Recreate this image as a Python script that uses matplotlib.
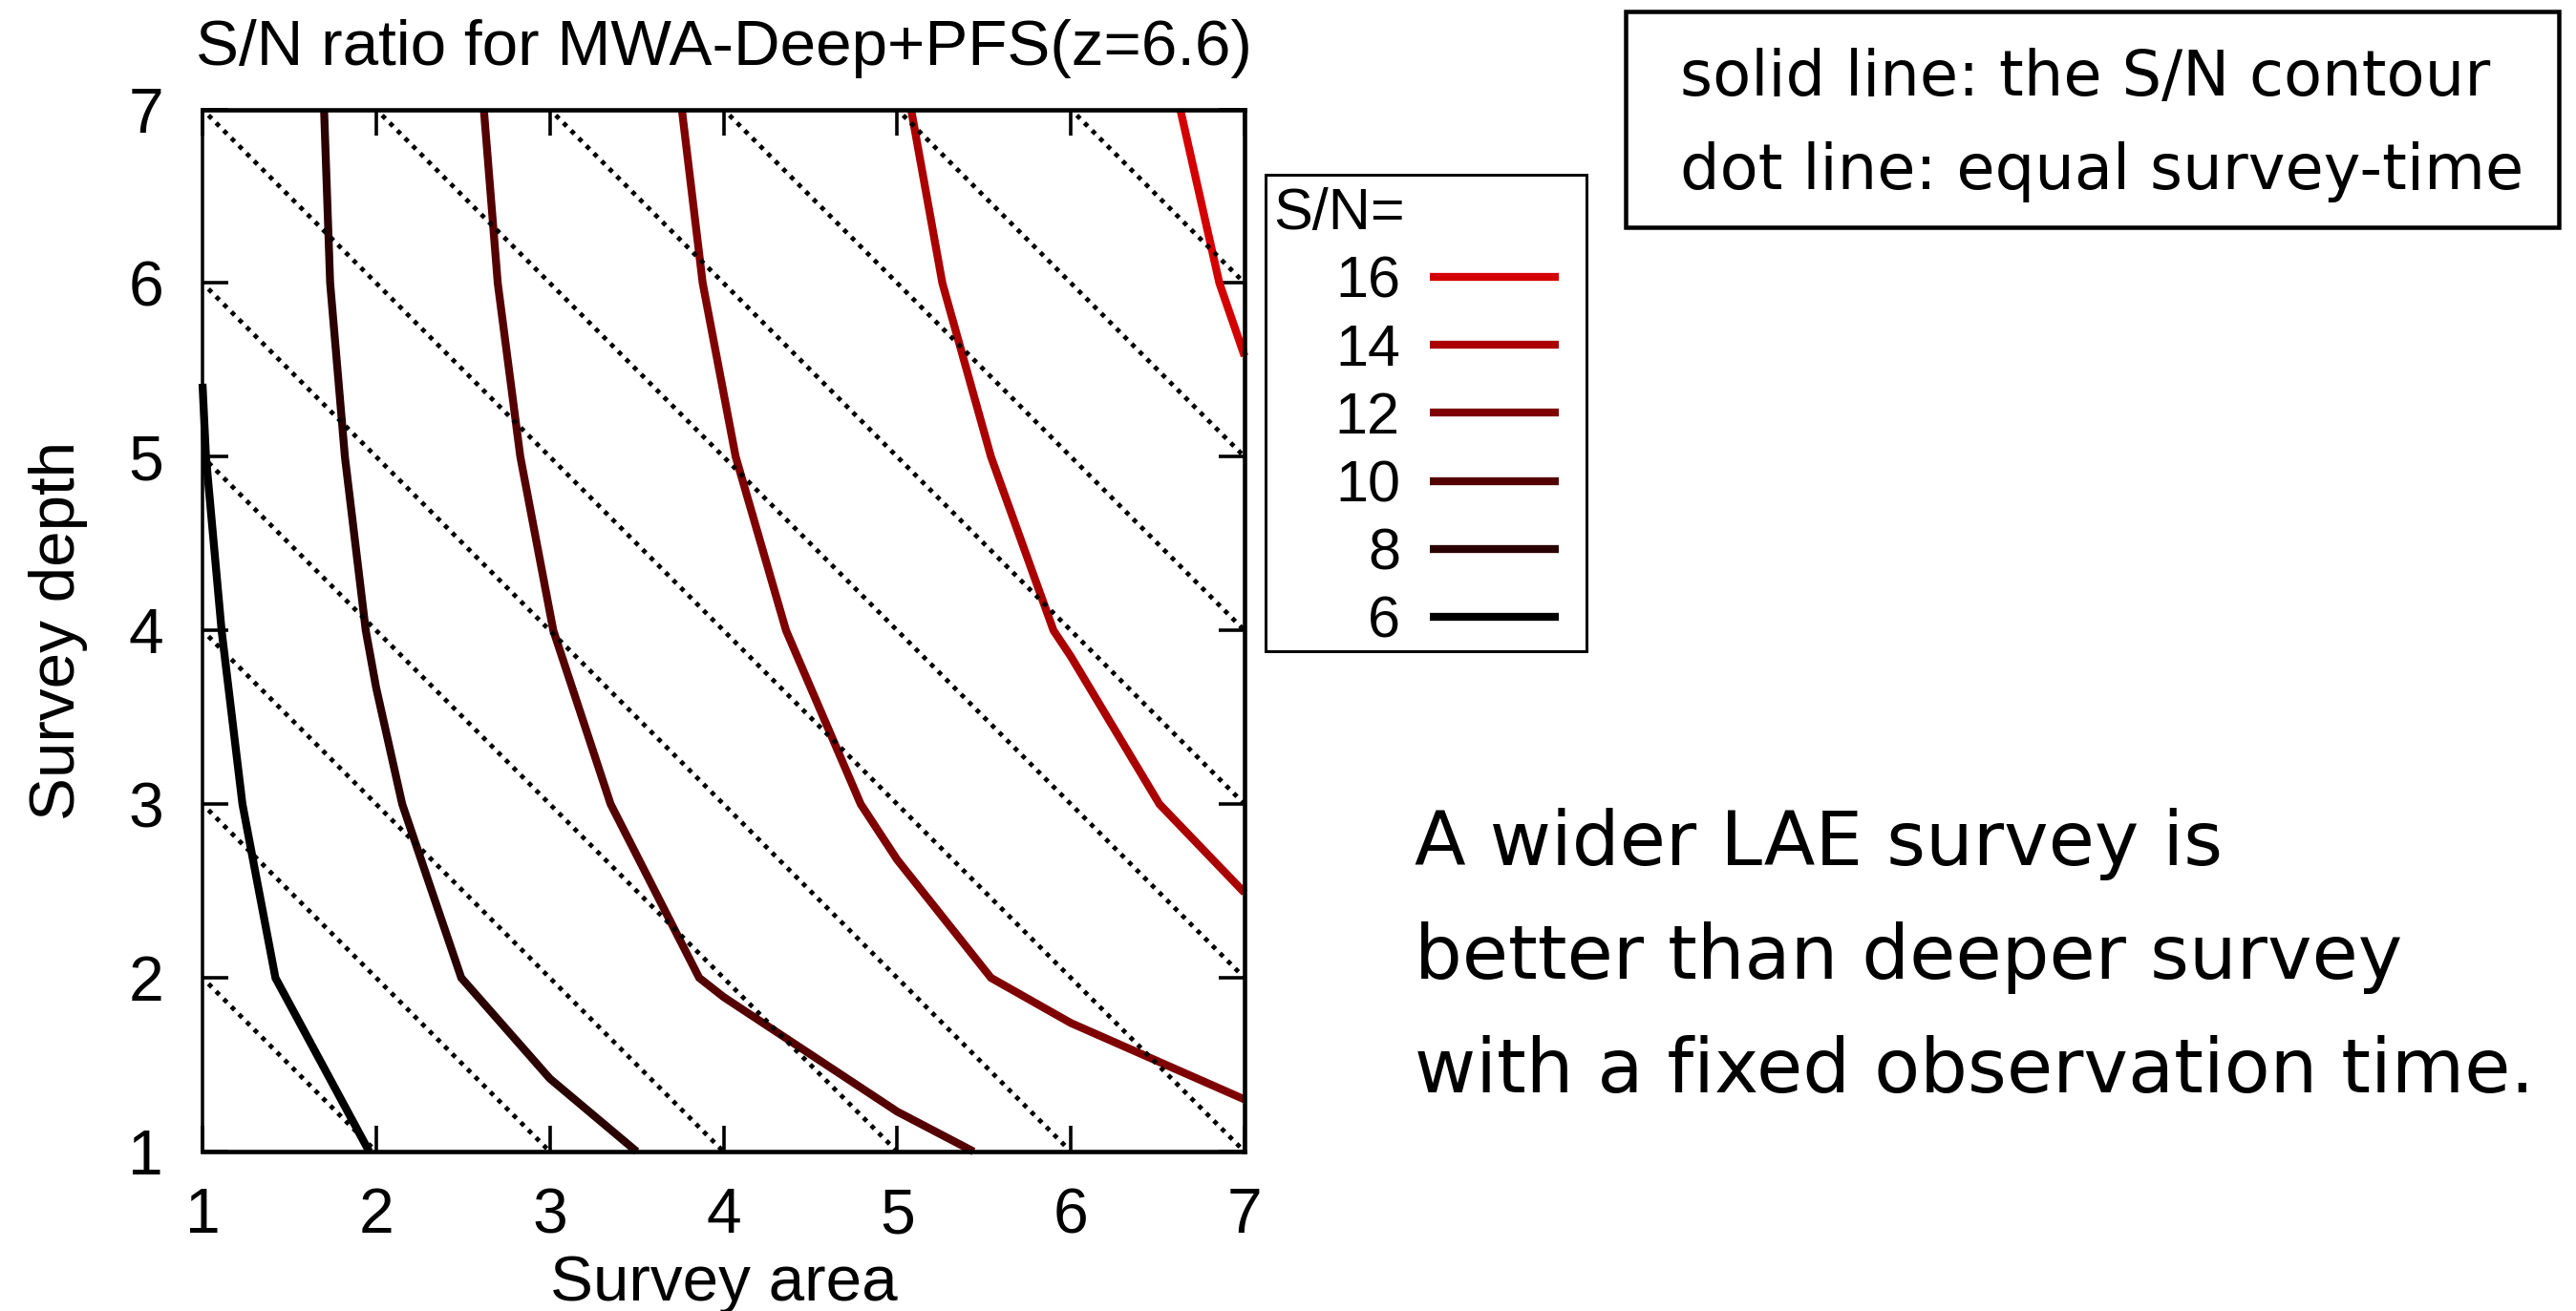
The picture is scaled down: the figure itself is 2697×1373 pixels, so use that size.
import matplotlib
matplotlib.use("Agg")
import matplotlib.pyplot as plt
from matplotlib.lines import Line2D
from matplotlib.patches import Rectangle

# ---------------- data ----------------
area_ticks = [1, 2, 3, 4, 5, 6, 7]
depth_ticks = [1, 2, 3, 4, 5, 6, 7]

# equal survey-time lines: area + depth = const
time_levels = [3, 4, 5, 6, 7, 8, 9, 10, 11, 12, 13]

# S/N contour paths (survey area, survey depth)
sn_levels = [16, 14, 12, 10, 8, 6]
sn_colors = ["#d40000", "#aa0000", "#7f0000", "#550000", "#2a0000", "#000000"]

sn16_area = [6.63, 6.855, 7.0]
sn16_depth = [7.0, 6.0, 5.58]

sn14_area = [5.08, 5.26, 5.54, 5.90, 6.0, 6.51, 7.0]
sn14_depth = [7.0, 6.0, 5.0, 4.0, 3.85, 3.0, 2.49]

sn12_area = [3.76, 3.88, 4.07, 4.36, 4.79, 5.0, 5.54, 6.0, 6.5, 7.0]
sn12_depth = [7.0, 6.0, 5.0, 4.0, 3.0, 2.68, 2.0, 1.74, 1.52, 1.30]

sn10_area = [2.62, 2.70, 2.83, 3.02, 3.35, 3.86, 4.0, 5.0, 5.44]
sn10_depth = [7.0, 6.0, 5.0, 4.0, 3.0, 2.0, 1.89, 1.23, 1.0]

sn8_area = [1.70, 1.735, 1.82, 1.94, 2.0, 2.15, 2.49, 3.0, 3.5]
sn8_depth = [7.0, 6.0, 5.0, 4.0, 3.67, 3.0, 2.0, 1.42, 1.0]

sn6_area = [1.0, 1.02, 1.11, 1.23, 1.42, 1.96]
sn6_depth = [5.42, 5.0, 4.0, 3.0, 2.0, 1.0]

sn_paths = [
    (sn16_area, sn16_depth),
    (sn14_area, sn14_depth),
    (sn12_area, sn12_depth),
    (sn10_area, sn10_depth),
    (sn8_area, sn8_depth),
    (sn6_area, sn6_depth),
]

# ---------------- layout ----------------
W, H = 2697, 1373
DPI = 100
PX = 72.0 / DPI  # points per pixel

plt.rcParams["font.family"] = ["Liberation Sans", "DejaVu Sans"]

fig = plt.figure(figsize=(W / DPI, H / DPI), dpi=DPI)


def fx(px):
    return px / W


def fy(py):
    return 1.0 - py / H


ax_left, ax_right, ax_top, ax_bottom = 212, 1303, 114.5, 1206
ax = fig.add_axes([fx(ax_left), fy(ax_bottom),
                   (ax_right - ax_left) / W, (ax_bottom - ax_top) / H])

ax.set_xlim(1, 7)
ax.set_ylim(1, 7)

# S/N contours
contour_lw = 8.3 * PX
for (xs, ys), col in zip(sn_paths, sn_colors):
    ax.plot(xs, ys, color=col, lw=contour_lw, solid_capstyle="butt",
            solid_joinstyle="miter", clip_on=False, zorder=2)

# equal survey-time dotted lines
lo, hi = area_ticks[0], area_ticks[-1]
for c in time_levels:
    x0 = max(lo, c - hi)
    x1 = min(hi, c - lo)
    ax.plot([x0, x1], [c - x0, c - x1], color="black", lw=4.8 * PX,
            linestyle=(0.5, (1.0, 1.35)), dash_capstyle="butt", zorder=3)

# frame and ticks
ax.spines["left"].set_linewidth(3.5 * PX)
for s in ("right", "top", "bottom"):
    ax.spines[s].set_linewidth(4.6 * PX)
for s in ax.spines.values():
    s.set_zorder(4)

ax.set_xticks(area_ticks)
ax.set_yticks(depth_ticks)
ax.set_xticklabels([str(v) for v in area_ticks])
ax.set_yticklabels([str(v) for v in depth_ticks])
ax.tick_params(direction="in", length=27 * PX, width=3.6 * PX,
               top=True, right=True, labelsize=47.5)
ax.tick_params(axis="x", pad=37 * PX)
ax.tick_params(axis="y", pad=41 * PX)

ax.set_xlabel("Survey area", fontsize=48.5)
ax.xaxis.set_label_coords(0.5, (ax_bottom - 1362) / (ax_bottom - ax_top))
ax.xaxis.label.set_va("baseline")

ax.set_ylabel("Survey depth", fontsize=48.5)
ax.yaxis.set_label_coords((61 - ax_left) / (ax_right - ax_left), 0.5)
ax.yaxis.label.set_va("center")

fig.text(fx((ax_left + ax_right) / 2), fy(68), "S/N ratio for MWA-Deep+PFS(z=6.6)",
         ha="center", va="baseline", fontsize=48.5)

# ---------------- S/N key ----------------
fig.add_artist(Rectangle((fx(1325), fy(682)), (1661 - 1325) / W, (682 - 183) / H,
                         transform=fig.transFigure, fill=False,
                         edgecolor="black", lw=3.0 * PX))
fig.text(fx(1333), fy(240), "S/N=", ha="left", va="baseline", fontsize=44)
row0, row_step = 290, 71.2
for i, (lev, col) in enumerate(zip(sn_levels, sn_colors)):
    yc = row0 + i * row_step
    fig.text(fx(1466), fy(yc + 22), str(lev), ha="right", va="baseline", fontsize=44)
    fig.add_artist(Line2D([fx(1497), fx(1632)], [fy(yc), fy(yc)],
                          transform=fig.transFigure, color=col,
                          lw=contour_lw, solid_capstyle="butt"))

# ---------------- notes ----------------
note_font = "DejaVu Sans"
fig.add_artist(Rectangle((fx(1702), fy(238)), (2679 - 1702) / W, (238 - 12) / H,
                         transform=fig.transFigure, fill=False,
                         edgecolor="black", lw=4.5 * PX))
fig.text(fx(1759), fy(100), "solid line: the S/N contour", ha="left",
         va="baseline", fontsize=47.2, family=note_font)
fig.text(fx(1759), fy(198), "dot line: equal survey-time", ha="left",
         va="baseline", fontsize=47.2, family=note_font)

summary = ["A wider LAE survey is",
           "better than deeper survey",
           "with a fixed observation time."]
for line, base in zip(summary, [906, 1025, 1144]):
    fig.text(fx(1481), fy(base), line, ha="left", va="baseline",
             fontsize=56.5, family=note_font)

fig.savefig("out.png", dpi=DPI)
